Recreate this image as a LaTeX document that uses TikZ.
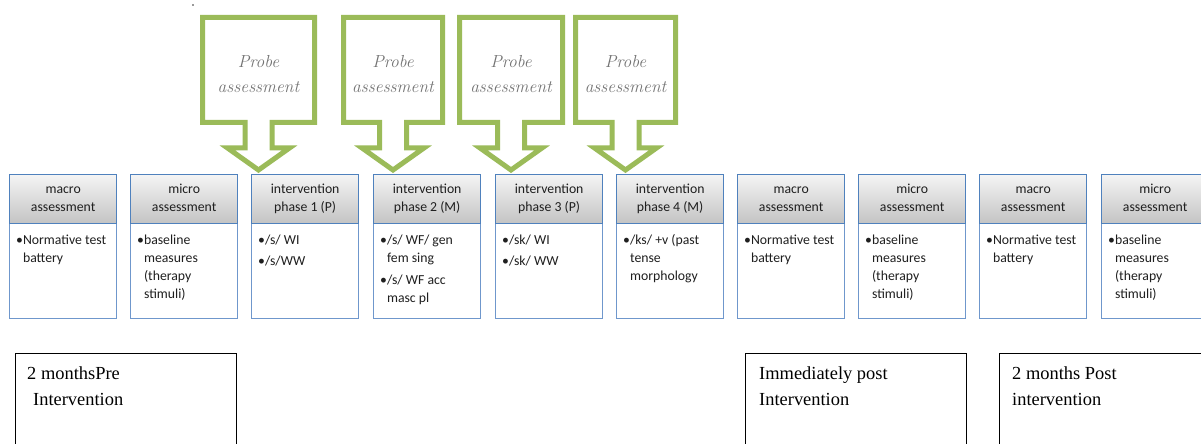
\documentclass[tikz,border=0pt]{standalone}
\usepackage{fontspec}
\usetikzlibrary{calc}
\newfontfamily\calib{Carlito}
\newfontfamily\tnr{Liberation Serif}

\definecolor{probegreen}{HTML}{9BBB59}
\definecolor{headblue}{HTML}{4F81BD}
\definecolor{bodyblue}{HTML}{6F97CC}
\definecolor{headtop}{HTML}{F4F4F4}
\definecolor{headbot}{HTML}{C3C3C3}
\definecolor{probegray}{HTML}{737373}
\definecolor{inktext}{HTML}{1F1F1F}

\tikzset{
  phasehead/.style={draw=headblue, line width=1.3bp, top color=headtop, bottom color=headbot,
    minimum width=107bp, minimum height=49bp, anchor=north west, inner sep=0pt,
    align=center, text=inktext, font=\calib\fontsize{13.8}{18}\selectfont},
  phasebody/.style={draw=bodyblue, line width=1.2bp, fill=white,
    minimum width=107bp, minimum height=95bp, anchor=north west, inner sep=0pt},
  bodytext/.style={anchor=north west, inner sep=0pt, align=left, text=inktext,
    font=\calib\fontsize{13.8}{18}\selectfont},
  probeshape/.style={draw=probegreen, line width=5bp, fill=white, line join=miter},
  probetext/.style={align=center, text=probegray, inner sep=0pt,
    font=\itshape\fontsize{17.5}{26}\selectfont},
  notebox/.style={draw=black, line width=0.9bp, minimum width=221bp, minimum height=110bp,
    anchor=north west, inner sep=0pt},
  notetext/.style={anchor=north west, inner sep=0pt, align=left, text=black,
    font=\tnr\fontsize{18.5}{26}\selectfont}
}

% one timeline column: header box (two lines), body box and its bullet text
\newcommand\phasecol[5]{%
  \node[phasebody] (#1b) at (#2,223) {};
  \node[phasehead] (#1h) at (#2,174) {\strut#3\\\strut#4};
  \node[bodytext] (#1t) at ($(#1b.north west)+(7,8.5)$) {#5};
}
% green callout pointing down onto the timeline
\newcommand\probecallout[3]{%
  \pgfmathsetmacro\cx{(#1+#2)/2}
  \draw[probeshape] (#1,17.5) -- (#2,17.5) -- (#2,122.5) -- (\cx+13.5,122.5)
    -- (\cx+13.5,148) -- (\cx+31,148) -- (\cx,170) -- (\cx-31,148) -- (\cx-13.5,148)
    -- (\cx-13.5,122.5) -- (#1,122.5) -- cycle;
  \node[probetext] (#3) at (\cx,74) {Probe\\assessment};
}
\newcommand\cont{\phantom{\textbullet}}

\begin{document}
\begin{tikzpicture}[x=1bp,y=-1bp]
  \useasboundingbox (0,0) rectangle (1201,444);
  \clip (0,0) rectangle (1201,444);
  \fill[white] (0,0) rectangle (1201,444);

  % stray mark at the top
  \fill[black!80] (193,5) circle (0.8);

  % probe callouts
  \probecallout{202.5}{314.5}{probeA}
  \probecallout{343.5}{442.5}{probeB}
  \probecallout{459.5}{562.5}{probeC}
  \probecallout{575.5}{675.5}{probeD}

  % timeline columns
  \phasecol{c1}{9}{macro}{assessment}{\strut•Normative test\\\cont battery}
  \phasecol{c2}{130}{micro}{assessment}{\strut•baseline\\\cont measures\\\cont (therapy\\\cont stimuli)}
  \phasecol{c3}{251}{intervention}{phase 1 (P)}{\strut•/s/ WI\\[3bp]•/s/WW}
  \phasecol{c4}{373}{intervention}{phase 2 (M)}{\strut•/s/ WF/ gen\\\cont fem sing\\[4bp]•/s/ WF acc\\\cont masc pl}
  \phasecol{c5}{495}{intervention}{phase 3 (P)}{\strut•/sk/ WI\\[3bp]•/sk/ WW}
  \phasecol{c6}{616}{intervention}{phase 4 (M)}{\strut•/ks/ +v (past\\\cont tense\\\cont morphology}
  \phasecol{c7}{737}{macro}{assessment}{\strut•Normative test\\\cont battery}
  \phasecol{c8}{858}{micro}{assessment}{\strut•baseline\\\cont measures\\\cont (therapy\\\cont stimuli)}
  \phasecol{c9}{979}{macro}{assessment}{\strut•Normative test\\\cont battery}
  \phasecol{c10}{1101}{micro}{assessment}{\strut•baseline\\\cont measures\\\cont (therapy\\\cont stimuli)}

  % time point boxes
  \node[notebox] (pre) at (15,353) {};
  \node[notetext] (pretext) at ($(pre.north west)+(12,8)$) {\strut 2 monthsPre\\\hspace*{6bp}Intervention};
  \node[notebox] (post) at (745,353) {};
  \node[notetext] (posttext) at ($(post.north west)+(14,8)$) {\strut Immediately post\\Intervention};
  \node[notebox] (follow) at (999,353) {};
  \node[notetext] (followtext) at ($(follow.north west)+(13,8)$) {\strut 2 months Post\\intervention};
\end{tikzpicture}
\end{document}
